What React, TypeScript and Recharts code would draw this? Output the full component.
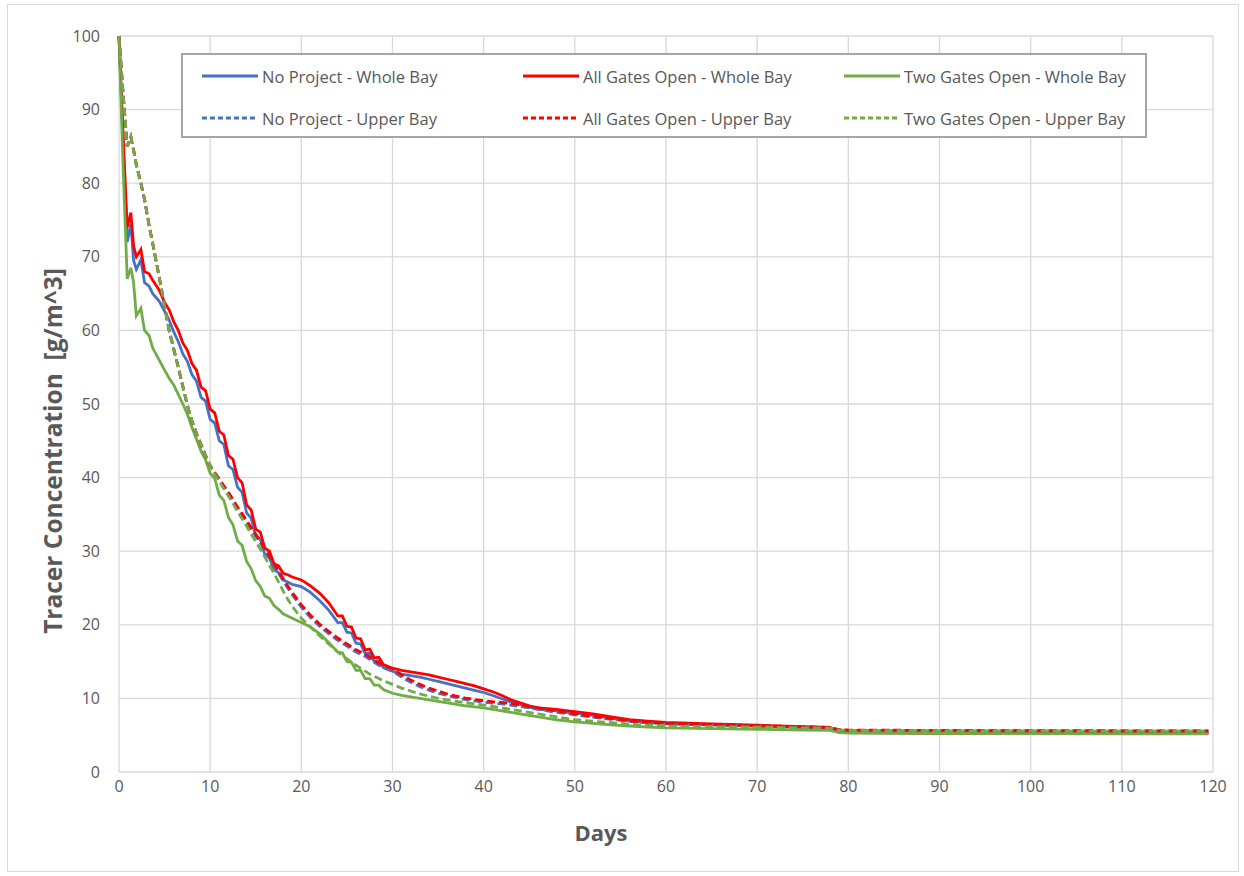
import React from 'react';
import { LineChart, Line, XAxis, YAxis, CartesianGrid } from 'recharts';

// Simulation output days (shared time axis for all series)
const days = [
  0, 0.4, 0.9, 1.3, 1.6, 1.9, 2.4, 2.8, 3.3, 3.7, 4.4, 5, 5.5, 6, 6.5, 7, 7.5, 8, 8.5, 9,
  9.5, 10, 10.5, 11, 11.5, 12, 12.5, 13, 13.5, 14, 14.5, 15, 15.5, 16, 16.5, 17, 17.5, 18, 18.5, 19,
  20, 21, 22, 23, 24, 24.5, 25, 25.5, 26, 26.5, 27, 27.5, 28, 28.5, 29, 30, 31, 32, 33, 34,
  35, 36, 37, 38, 39, 40, 41, 42, 43, 44, 45, 46, 47, 48, 49, 50, 52, 54, 56, 58,
  60, 65, 70, 75, 78, 79, 80, 90, 100, 110, 119.5,
];

// No Project - Whole Bay
const noProjectWhole = [
  100, 87, 72, 74.5, 69.5, 68.3, 69.6, 66.5, 66, 65, 64, 62.6, 61.4, 59.8, 58.5, 56.8, 55.8, 54, 53.1, 50.9,
  50.4, 47.9, 47.4, 45, 44.5, 41.6, 41.1, 38.7, 38, 35.2, 34.5, 32, 31.6, 29.5, 29.1, 27.5, 27.1, 26.1, 25.8, 25.5,
  25.2, 24.4, 23.3, 22, 20.3, 20.3, 19, 18.9, 17.5, 17.4, 16.1, 16.1, 15, 15.1, 14.2, 13.7, 13.3, 13.1, 12.9, 12.6,
  12.3, 12, 11.7, 11.4, 11.1, 10.8, 10.4, 9.95, 9.5, 9.15, 8.8, 8.5, 8.4, 8.3, 8.15, 8.0, 7.7, 7.3, 6.95, 6.75,
  6.6, 6.45, 6.25, 6.05, 5.95, 5.4, 5.35, 5.3, 5.3, 5.28, 5.28,
];

// All Gates Open - Whole Bay
const allGatesWhole = [
  100, 88, 74, 76, 71.5, 70, 71, 68, 67.7, 66.8, 65.5, 63.8, 62.8, 61.2, 60, 58.3, 57.3, 55.5, 54.6, 52.3,
  51.8, 49.3, 48.8, 46.3, 45.8, 43, 42.5, 40, 39.3, 36.3, 35.6, 33, 32.6, 30.4, 30, 28.3, 28, 27, 26.8, 26.5,
  26.1, 25.3, 24.3, 23, 21.2, 21.2, 19.8, 19.7, 18.2, 18.1, 16.6, 16.7, 15.5, 15.6, 14.6, 14.1, 13.8, 13.6, 13.4, 13.2,
  12.9, 12.6, 12.3, 12, 11.7, 11.3, 10.9, 10.4, 9.8, 9.4, 9.0, 8.7, 8.6, 8.5, 8.35, 8.2, 7.9, 7.5, 7.1, 6.9,
  6.75, 6.55, 6.35, 6.15, 6.05, 5.4, 5.35, 5.3, 5.3, 5.28, 5.28,
];

// Two Gates Open - Whole Bay
const twoGatesWhole = [
  100, 84, 67, 68.5, 66.5, 62, 63, 60, 59.3, 57.6, 56, 54.6, 53.5, 52.6, 51.3, 50, 48.6, 46.8, 45.2, 43.6,
  42.4, 40.6, 39.9, 37.6, 36.9, 34.6, 33.6, 31.4, 30.8, 28.6, 27.6, 26, 25.2, 23.9, 23.6, 22.6, 22.1, 21.5, 21.2, 20.9,
  20.3, 19.7, 18.8, 17.6, 16.3, 16.2, 15, 14.9, 13.8, 13.8, 12.7, 12.7, 11.8, 11.8, 11.2, 10.7, 10.4, 10.2, 10.0, 9.8,
  9.6, 9.4, 9.2, 9.0, 8.85, 8.7, 8.5, 8.3, 8.1, 7.9, 7.7, 7.5, 7.3, 7.1, 6.95, 6.8, 6.6, 6.4, 6.25, 6.1,
  6.0, 5.9, 5.8, 5.7, 5.65, 5.35, 5.3, 5.25, 5.22, 5.2, 5.2,
];

// No Project - Upper Bay
const noProjectUpper = [
  100, 93, 85, 86.3, 84.5, 82.5, 80, 77.8, 74.3, 71.8, 67.3, 63.3, 60, 57.5, 55, 52.4, 49.8, 47.7, 46, 44.5,
  43, 41.6, 40.6, 39.7, 38.7, 37.8, 36.8, 35.8, 34.9, 33.9, 33, 32, 31.1, 30.1, 29.1, 28, 27, 26, 25, 24.1,
  22.4, 21, 19.8, 18.8, 17.9, 17.5, 17.1, 16.7, 16.3, 16, 15.7, 15.3, 14.9, 14.5, 14.2, 13.7, 12.9, 12.2, 11.6, 11.1,
  10.7, 10.4, 10.1, 9.85, 9.65, 9.5, 9.35, 9.25, 9.1, 8.9, 8.7, 8.5, 8.3, 8.1, 7.95, 7.75, 7.45, 7.15, 6.9, 6.7,
  6.55, 6.4, 6.25, 6.1, 6.0, 5.72, 5.67, 5.62, 5.6, 5.58, 5.58,
];

// All Gates Open - Upper Bay
const allGatesUpper = [
  100, 93, 85, 86.3, 84.5, 82.5, 80, 77.8, 74.3, 71.8, 67.3, 63.3, 60, 57.5, 55, 52.4, 49.8, 47.7, 46, 44.5,
  43, 41.6, 40.7, 39.8, 38.9, 38, 37, 36, 35.1, 34.2, 33.2, 32.3, 31.4, 30.4, 29.4, 28.3, 27.3, 26.3, 25.3, 24.4,
  22.7, 21.3, 20.1, 19.1, 18.2, 17.8, 17.4, 17, 16.6, 16.3, 16, 15.6, 15.2, 14.8, 14.5, 14.0, 13.2, 12.5, 11.9, 11.4,
  11, 10.6, 10.3, 10.05, 9.85, 9.7, 9.55, 9.45, 9.3, 9.1, 8.9, 8.7, 8.5, 8.3, 8.1, 7.9, 7.55, 7.25, 6.95, 6.75,
  6.6, 6.45, 6.3, 6.15, 6.05, 5.75, 5.7, 5.65, 5.62, 5.6, 5.6,
];

// Two Gates Open - Upper Bay
const twoGatesUpper = [
  100, 93, 85, 86.3, 84.5, 82.5, 80, 77.8, 74.3, 71.8, 67.3, 63.3, 60, 57.5, 55, 52.4, 49.8, 47.7, 46, 44.5,
  43, 41.6, 40.5, 39.5, 38.5, 37.5, 36.5, 35.4, 34.4, 33.4, 32.3, 31.3, 30.3, 29.2, 28.1, 27, 25.8, 24.6, 23.5, 22.5,
  20.9, 19.7, 18.5, 17.4, 16.3, 15.8, 15.4, 14.9, 14.5, 14.1, 13.7, 13.3, 13, 12.7, 12.4, 11.9, 11.4, 11, 10.6, 10.3,
  10, 9.8, 9.6, 9.4, 9.25, 9.1, 8.9, 8.7, 8.5, 8.3, 8.1, 7.9, 7.7, 7.5, 7.3, 7.1, 6.9, 6.7, 6.5, 6.35,
  6.25, 6.15, 6.1, 6.0, 5.95, 5.7, 5.65, 5.6, 5.58, 5.55, 5.55,
];

const xTicks = [0, 10, 20, 30, 40, 50, 60, 70, 80, 90, 100, 110, 120];
const yTicks = [0, 10, 20, 30, 40, 50, 60, 70, 80, 90, 100];

const BLUE = '#4472C4';
const RED = '#FF0000';
const GREEN = '#70AD47';
const TEXT = '#595959';
const FONT = "'Open Sans', 'Noto Sans', sans-serif";

const seriesDefs = [
  { key: 'npWhole', name: 'No Project - Whole Bay', color: BLUE, dashed: false, values: noProjectWhole },
  { key: 'agWhole', name: 'All Gates Open - Whole Bay', color: RED, dashed: false, values: allGatesWhole },
  { key: 'tgWhole', name: 'Two Gates Open - Whole Bay', color: GREEN, dashed: false, values: twoGatesWhole },
  { key: 'npUpper', name: 'No Project - Upper Bay', color: BLUE, dashed: true, values: noProjectUpper },
  { key: 'agUpper', name: 'All Gates Open - Upper Bay', color: RED, dashed: true, values: allGatesUpper },
  { key: 'tgUpper', name: 'Two Gates Open - Upper Bay', color: GREEN, dashed: true, values: twoGatesUpper },
];

const rows = days.map((day, i) => {
  const row: Record<string, number> = { day };
  seriesDefs.forEach((s) => {
    row[s.key] = s.values[i];
  });
  return row;
});

const DASH = '8 4';

function LegendBox() {
  const colX = [0, 321, 642];
  return (
    <div
      style={{
        position: 'absolute',
        left: 181,
        top: 53,
        width: 966,
        height: 85,
        boxSizing: 'border-box',
        border: '2.5px solid #A6A6A6',
        background: '#fff',
        fontFamily: FONT,
        fontSize: 16.5,
        color: TEXT,
      }}
    >
      {seriesDefs.map((s, i) => {
        const col = i % 3;
        const row = Math.floor(i / 3);
        return (
          <div
            key={s.key}
            style={{
              position: 'absolute',
              left: 18 + colX[col],
              top: row === 0 ? 9 : 51,
              height: 24,
              display: 'flex',
              alignItems: 'center',
              whiteSpace: 'nowrap',
            }}
          >
            <svg width={58} height={6} style={{ marginRight: 3 }}>
              <line
                x1={1}
                y1={3}
                x2={57}
                y2={3}
                stroke={s.color}
                strokeWidth={3}
                strokeDasharray={s.dashed ? '5 3' : undefined}
              />
            </svg>
            <span>{s.name}</span>
          </div>
        );
      })}
    </div>
  );
}

export default function App() {
  return (
    <div style={{ position: 'absolute', left: 0, top: 0, width: 1244, height: 876, background: '#fff' }}>
      <div
        style={{
          position: 'absolute',
          left: 7,
          top: 4,
          width: 1232,
          height: 868,
          border: '1px solid #D9D9D9',
          boxSizing: 'border-box',
        }}
      />
      <div style={{ position: 'absolute', left: 0, top: 0 }}>
        <LineChart
          width={1244}
          height={876}
          data={rows}
          margin={{ top: 36, right: 31, bottom: 74, left: 59 }}
        >
          <CartesianGrid stroke="#D9D9D9" strokeWidth={1.3} />
          <XAxis
            dataKey="day"
            type="number"
            domain={[0, 120]}
            ticks={xTicks}
            interval={0}
            height={30}
            axisLine={false}
            tickLine={false}
            tickSize={0}
            tickMargin={9}
            tick={{ fill: TEXT, fontSize: 16, fontFamily: FONT }}
          />
          <YAxis
            type="number"
            domain={[0, 100]}
            ticks={yTicks}
            interval={0}
            width={60}
            axisLine={false}
            tickLine={false}
            tickSize={0}
            tickMargin={19}
            tick={{ fill: TEXT, fontSize: 16, fontFamily: FONT }}
          />
          {seriesDefs.map((s) => (
            <Line
              key={s.key}
              type="linear"
              dataKey={s.key}
              name={s.name}
              stroke={s.color}
              strokeWidth={2.8}
              strokeDasharray={s.dashed ? DASH : undefined}
              dot={false}
              activeDot={false}
              isAnimationActive={false}
            />
          ))}
        </LineChart>
      </div>
      <LegendBox />
      <div
        style={{
          position: 'absolute',
          left: 601,
          top: 832,
          transform: 'translate(-50%, -50%)',
          fontFamily: FONT,
          fontWeight: 700,
          fontSize: 22,
          color: TEXT,
          whiteSpace: 'nowrap',
        }}
      >
        Days
      </div>
      <div
        style={{
          position: 'absolute',
          left: 52,
          top: 451,
          transform: 'translate(-50%, -50%) rotate(-90deg)',
          fontFamily: FONT,
          fontWeight: 700,
          fontSize: 24.5,
          color: TEXT,
          whiteSpace: 'pre',
        }}
      >
        {'Tracer Concentration  [g/m^3]'}
      </div>
    </div>
  );
}
